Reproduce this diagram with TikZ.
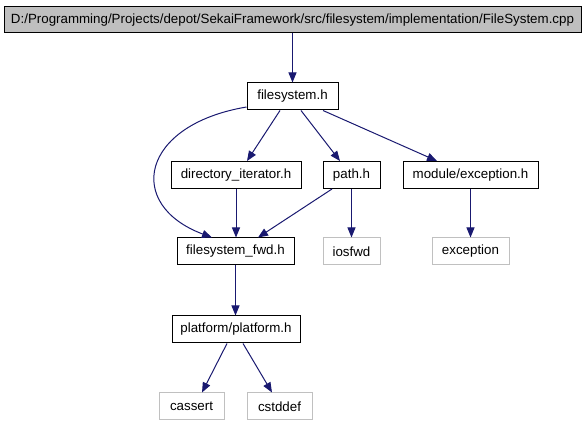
\documentclass[tikz,border=0pt]{standalone}
\usepackage{fontspec}
\setmainfont{Liberation Sans}
\usetikzlibrary{arrows.meta}
\definecolor{edgeblue}{HTML}{191970}
\definecolor{topfill}{HTML}{BFBFBF}
\definecolor{extgray}{HTML}{C0C0C0}
\tikzset{
  filebox/.style={draw=black, line width=1pt, fill=white, inner sep=0pt, minimum height=27pt, font=\fontsize{13.33}{16}\selectfont},
  topbox/.style={filebox, fill=topfill},
  extbox/.style={filebox, draw=extgray},
  dep/.style={draw=edgeblue, line width=1pt, -{Triangle[length=10pt,width=8pt]}, color=edgeblue},
}
\begin{document}
\begin{tikzpicture}[x=1pt,y=-1pt]
\useasboundingbox (0,0) rectangle (587,427);
\node[topbox, minimum width=577pt, minimum height=26pt] (top) at (292.5,20) {D:/Programming/Projects/depot/SekaiFramework/src/filesystem/implementation/FileSystem.cpp};
\node[filebox, minimum width=91pt] (fs) at (292.5,96.5) {filesystem.h};
\node[filebox, minimum width=130pt] (dir) at (236,175) {directory\_iterator.h};
\node[filebox, minimum width=57pt] (path) at (351.5,175) {path.h};
\node[filebox, minimum width=135pt] (mod) at (470.5,175) {module/exception.h};
\node[filebox, minimum width=117pt] (fwd) at (235.5,251.5) {filesystem\_fwd.h};
\node[extbox, minimum width=57pt] (ios) at (351.5,251.5) {iosfwd};
\node[extbox, minimum width=77pt] (exc) at (470.5,251.5) {exception};
\node[filebox, minimum width=128pt] (plat) at (236,329.5) {platform/platform.h};
\node[extbox, minimum width=65pt] (cas) at (191.5,406.5) {cassert};
\node[extbox, minimum width=65pt] (cst) at (279.5,406.5) {cstddef};

\draw[dep] (top.south) -- (fs.north);
\draw[dep] ([xshift=-12.5pt]fs.south) -- ([xshift=11pt]dir.north);
\draw[dep] ([xshift=8.5pt]fs.south) -- ([xshift=-11.5pt]path.north);
\draw[dep] ([xshift=30.5pt]fs.south) -- ([xshift=-33.5pt]mod.north);
\draw[dep] ([yshift=-10.5pt]fs.west) .. controls (140,125) and (125,205) .. ([xshift=-23.5pt]fwd.north);
\draw[dep] (dir.south) -- ([xshift=0.5pt]fwd.north);
\draw[dep] ([xshift=-19.5pt]path.south) -- ([xshift=22.5pt]fwd.north);
\draw[dep] (path.south) -- (ios.north);
\draw[dep] (mod.south) -- (exc.north);
\draw[dep] (fwd.south) -- ([xshift=-0.5pt]plat.north);
\draw[dep] ([xshift=-9pt]plat.south) -- ([xshift=10.5pt]cas.north);
\draw[dep] ([xshift=7pt]plat.south) -- ([xshift=-7.5pt]cst.north);
\end{tikzpicture}
\end{document}
